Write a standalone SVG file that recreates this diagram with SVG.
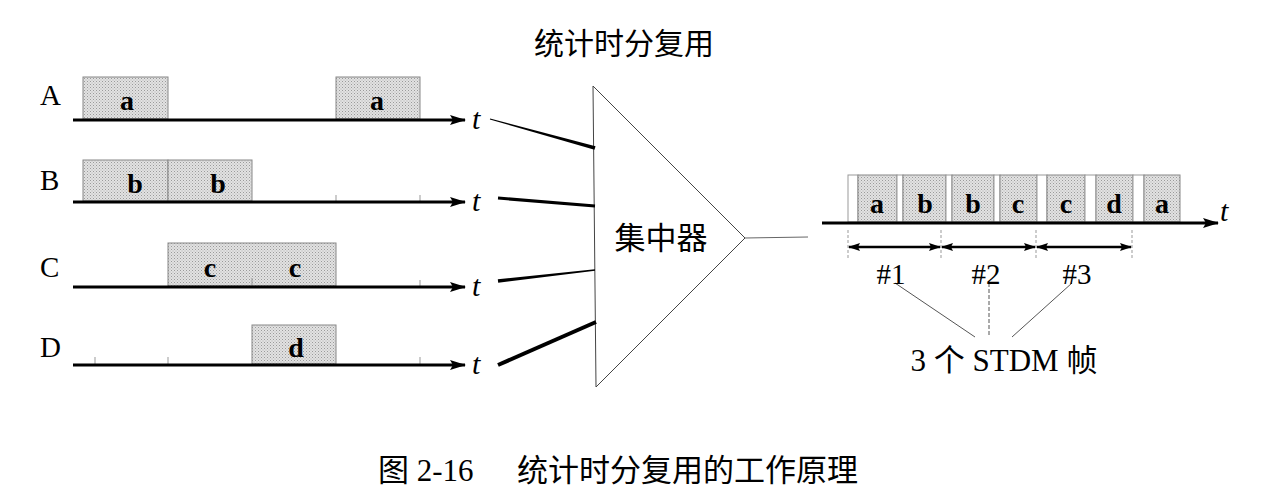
<svg xmlns="http://www.w3.org/2000/svg" width="1275" height="504" viewBox="0 0 1275 504">
<defs>
<marker id="ah" viewBox="0 0 16 10" refX="15" refY="5" markerWidth="16" markerHeight="10" markerUnits="userSpaceOnUse" orient="auto-start-reverse">
<path d="M0,0 L16,5 L0,10 L3,5 Z" fill="#000"/>
</marker>
<marker id="ah2" viewBox="0 0 12 8" refX="11" refY="4" markerWidth="12" markerHeight="8" markerUnits="userSpaceOnUse" orient="auto-start-reverse">
<path d="M0,0 L12,4 L0,8 L2,4 Z" fill="#000"/>
</marker>
<pattern id="dots" width="3" height="3" patternUnits="userSpaceOnUse">
<rect width="3" height="3" fill="#e2e2e2"/>
<rect width="1" height="1" fill="#9a9a9a"/>
<rect x="1.5" y="1.5" width="1" height="1" fill="#b0b0b0"/>
</pattern>
</defs>
<style>
.box{fill:url(#dots);stroke:#888;stroke-width:1}
.gap{fill:#fff;stroke:#999;stroke-width:1}
.axis{stroke:#000;stroke-width:3;fill:none}
.tick{stroke:#999;stroke-width:1}
.lbl{font-family:"Liberation Serif",serif;font-size:29px;fill:#000}
.bl{font-family:"Liberation Serif",serif;font-size:28px;font-weight:bold;fill:#000;text-anchor:middle}
.t{font-family:"Liberation Serif",serif;font-size:30px;font-style:italic;fill:#000}
.cjk{font-family:"Liberation Serif","Noto Sans CJK SC",serif;fill:#000}
.thin{stroke:#555;stroke-width:1;fill:none}
</style>

<text class="cjk" x="624" y="54" font-size="30" text-anchor="middle">统计时分复用</text>

<g id="rowA">
<text class="lbl" x="40" y="105">A</text>
<rect class="box" x="83" y="77" width="85" height="42"/>
<rect class="box" x="336" y="77" width="84" height="42"/>
<text class="bl" x="127" y="110">a</text>
<text class="bl" x="377" y="110">a</text>
<line class="axis" x1="73" y1="120" x2="465" y2="120" marker-end="url(#ah)"/>
<text class="t" x="472" y="129">t</text>
</g>

<g id="rowB">
<text class="lbl" x="40" y="190">B</text>
<rect class="box" x="83" y="160" width="85" height="41"/>
<rect class="box" x="168" y="160" width="84" height="41"/>
<line class="tick" x1="336" y1="195" x2="336" y2="201"/>
<line class="tick" x1="420" y1="195" x2="420" y2="201"/>
<text class="bl" x="135" y="193">b</text>
<text class="bl" x="218" y="193">b</text>
<line class="axis" x1="73" y1="202" x2="465" y2="202" marker-end="url(#ah)"/>
<text class="t" x="472" y="211">t</text>
</g>

<g id="rowC">
<text class="lbl" x="40" y="277">C</text>
<rect class="box" x="168" y="243" width="168" height="43"/>
<line class="tick" x1="252" y1="278" x2="252" y2="286"/>
<line class="tick" x1="420" y1="280" x2="420" y2="286"/>
<text class="bl" x="210" y="277">c</text>
<text class="bl" x="295" y="277">c</text>
<line class="axis" x1="73" y1="287" x2="465" y2="287" marker-end="url(#ah)"/>
<text class="t" x="472" y="296">t</text>
</g>

<g id="rowD">
<text class="lbl" x="40" y="357">D</text>
<line class="tick" x1="95" y1="357" x2="95" y2="364"/>
<line class="tick" x1="168" y1="357" x2="168" y2="364"/>
<line class="tick" x1="420" y1="357" x2="420" y2="364"/>
<rect class="box" x="252" y="325" width="84" height="39"/>
<text class="bl" x="296" y="357">d</text>
<line class="axis" x1="73" y1="365" x2="465" y2="365" marker-end="url(#ah)"/>
<text class="t" x="472" y="374">t</text>
</g>

<g id="concentrator">
<polygon points="593,86 745,238 596,387" fill="#fff" stroke="#444" stroke-width="1"/>
<text class="cjk" x="661" y="249" font-size="31" text-anchor="middle">集中器</text>
</g>

<g id="connectors">
<polygon points="490.1,118.5 595.5,146.3 594.5,149.7 489.9,119.5" fill="#000"/>
<line x1="498" y1="198" x2="595" y2="206" stroke="#000" stroke-width="3.2"/>
<polygon points="498.2,282.7 497.8,279.3 594.9,269.2 595.1,270.8" fill="#000"/>
<line x1="498" y1="365" x2="596" y2="322" stroke="#000" stroke-width="4"/>
<line x1="745" y1="238" x2="808" y2="237" stroke="#666" stroke-width="1"/>
<line class="thin" x1="895" y1="283" x2="975" y2="337"/>
<line class="thin" x1="989" y1="283" x2="989" y2="337" stroke-dasharray="4,2"/>
<line class="thin" x1="1072" y1="283" x2="1012" y2="337"/>
</g>

<g id="stdm">
<rect class="gap" x="848" y="175" width="10" height="47"/>
<rect class="box" x="858" y="175" width="39" height="47"/>
<rect class="gap" x="897" y="175" width="6" height="47"/>
<rect class="box" x="903" y="175" width="43" height="47"/>
<rect class="gap" x="946" y="175" width="6" height="47"/>
<rect class="box" x="952" y="175" width="42" height="47"/>
<rect class="gap" x="994" y="175" width="6" height="47"/>
<rect class="box" x="1000" y="175" width="37" height="47"/>
<rect class="gap" x="1037" y="175" width="10" height="47"/>
<rect class="box" x="1047" y="175" width="38" height="47"/>
<rect class="gap" x="1085" y="175" width="11" height="47"/>
<rect class="box" x="1096" y="175" width="37" height="47"/>
<rect class="gap" x="1133" y="175" width="11" height="47"/>
<rect class="box" x="1144" y="175" width="36" height="47"/>
<text class="bl" x="877" y="213">a</text>
<text class="bl" x="925" y="213">b</text>
<text class="bl" x="973" y="213">b</text>
<text class="bl" x="1018" y="213">c</text>
<text class="bl" x="1066" y="213">c</text>
<text class="bl" x="1114" y="213">d</text>
<text class="bl" x="1162" y="213">a</text>
<line class="axis" x1="822" y1="223" x2="1218" y2="223" marker-end="url(#ah)"/>
<text class="t" x="1220" y="221">t</text>
</g>

<g id="frames">
<line class="tick" x1="848" y1="230" x2="848" y2="258" stroke-dasharray="3,2"/>
<line class="tick" x1="941" y1="230" x2="941" y2="258" stroke-dasharray="3,2"/>
<line class="tick" x1="1036" y1="230" x2="1036" y2="258" stroke-dasharray="3,2"/>
<line class="tick" x1="1132" y1="230" x2="1132" y2="258" stroke-dasharray="3,2"/>
<line x1="849" y1="247" x2="940" y2="247" stroke="#000" stroke-width="2.5" marker-start="url(#ah2)" marker-end="url(#ah2)"/>
<line x1="942" y1="247" x2="1035" y2="247" stroke="#000" stroke-width="2.5" marker-start="url(#ah2)" marker-end="url(#ah2)"/>
<line x1="1037" y1="247" x2="1131" y2="247" stroke="#000" stroke-width="2.5" marker-start="url(#ah2)" marker-end="url(#ah2)"/>
<text class="lbl" x="891" y="284" text-anchor="middle" font-size="30">#1</text>
<text class="lbl" x="986" y="284" text-anchor="middle" font-size="30">#2</text>
<text class="lbl" x="1077" y="284" text-anchor="middle" font-size="30">#3</text>
<text class="cjk" x="1004" y="371" font-size="31" text-anchor="middle">3 个 STDM 帧</text>
</g>

<text class="cjk" x="378" y="481" font-size="31">图 2-16<tspan x="517">统计时分复用的工作原理</tspan></text>
</svg>
